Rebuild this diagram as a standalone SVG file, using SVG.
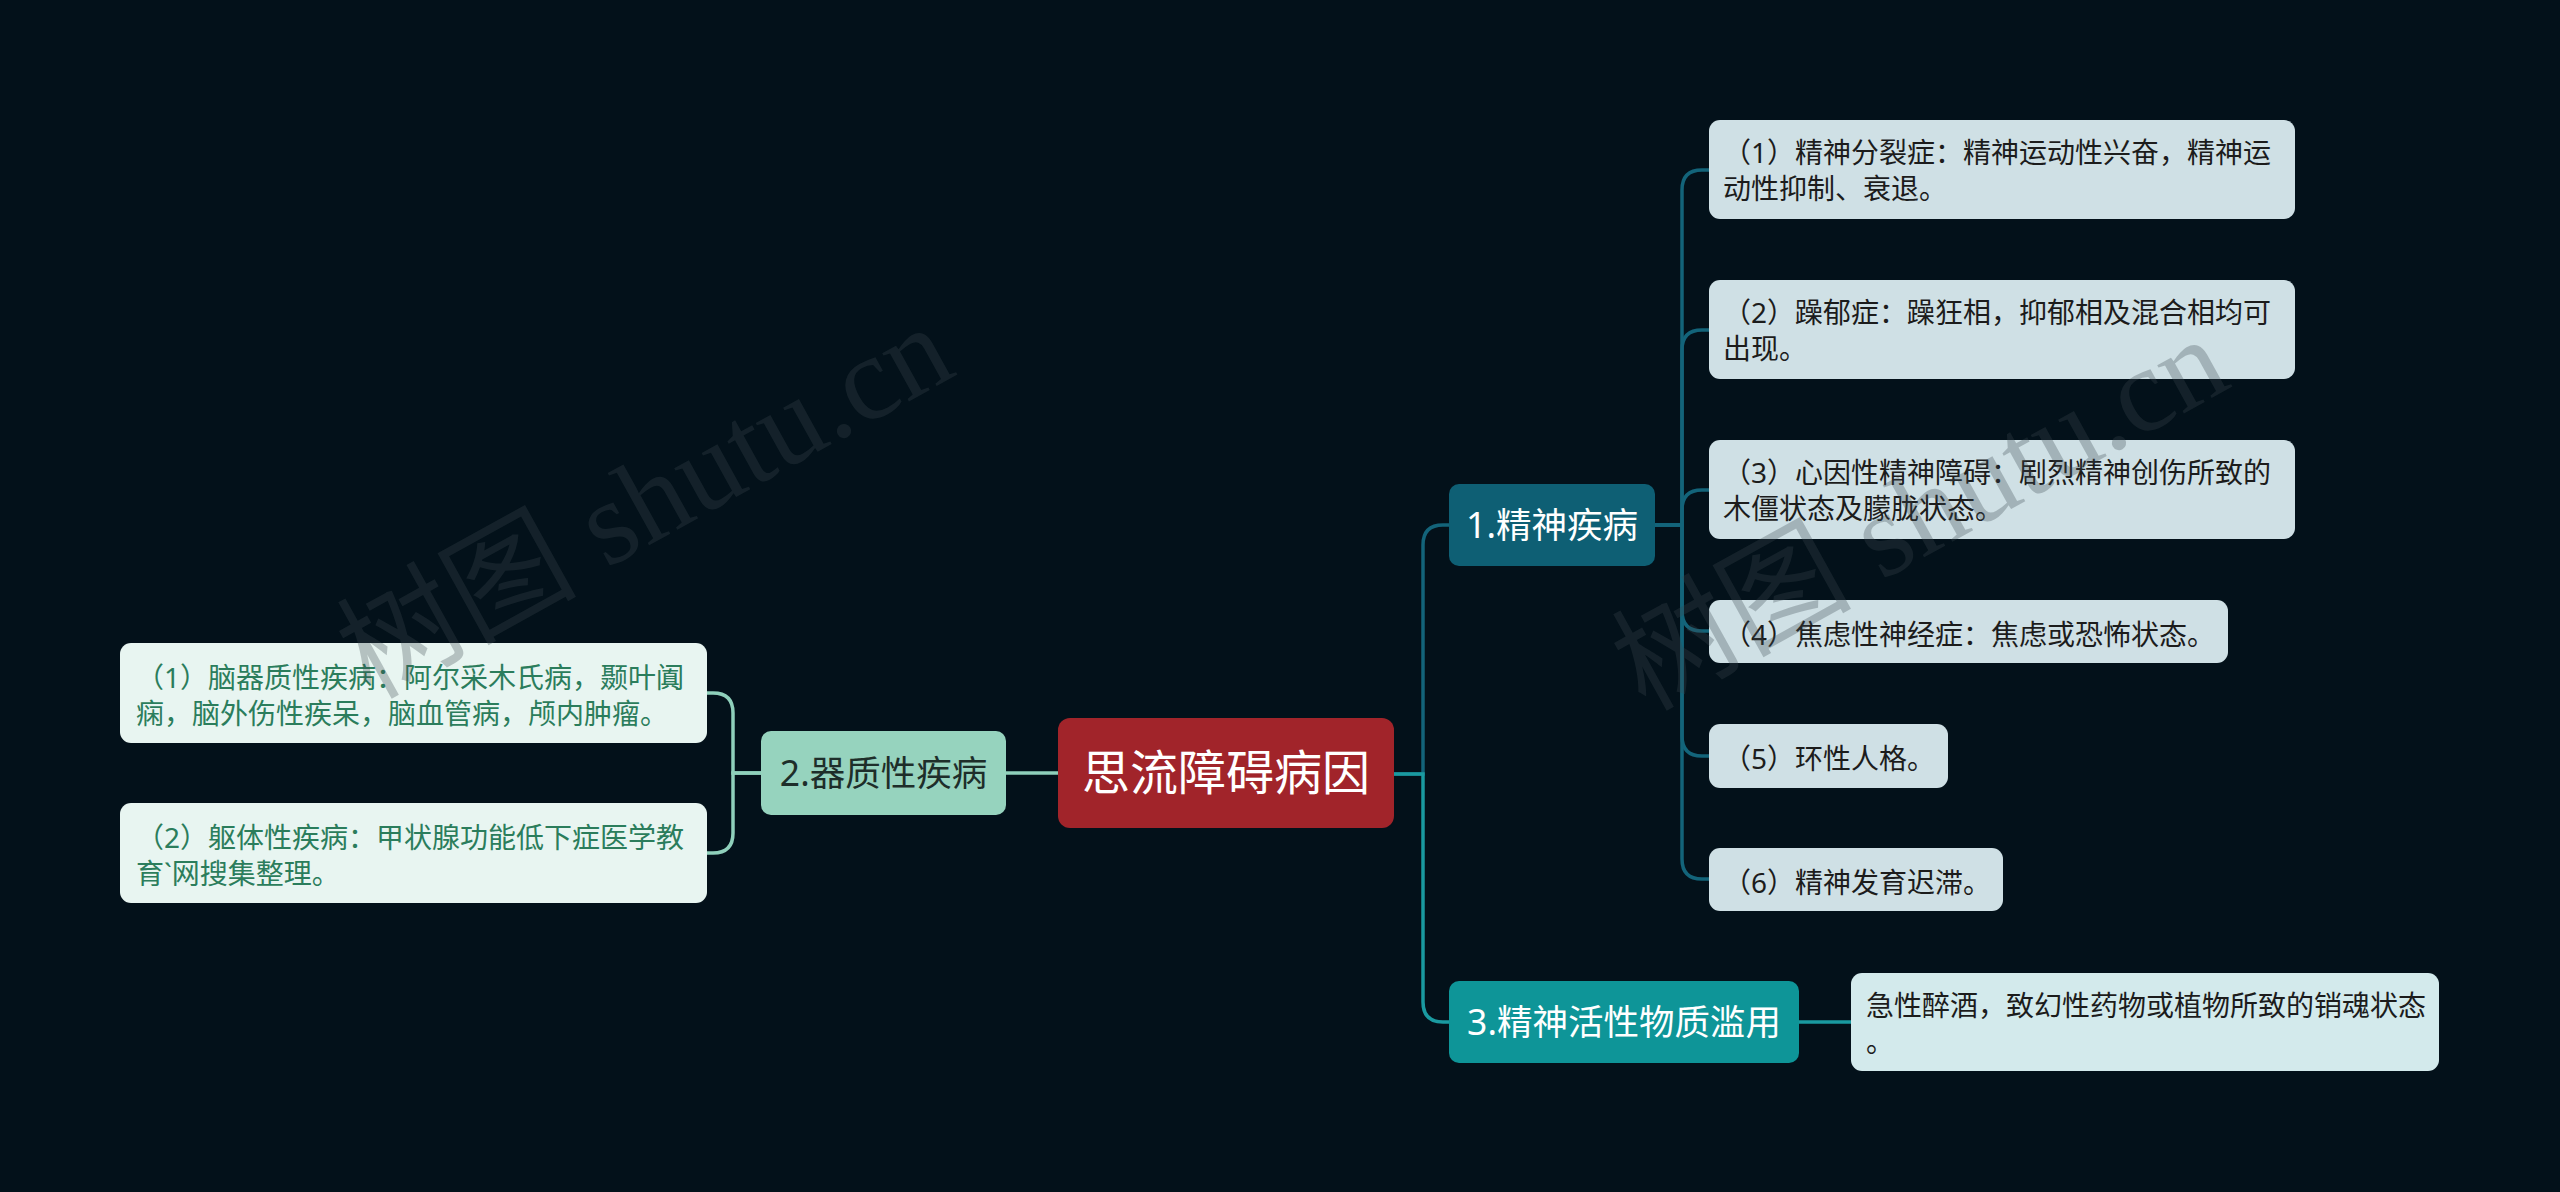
<svg xmlns="http://www.w3.org/2000/svg" width="2560" height="1192" viewBox="0 0 2560 1192">
<style>
.cn{font-family:"Noto Sans","Noto Sans CJK SC",sans-serif;}
.wm{font-family:"Liberation Serif","Noto Sans CJK SC",serif;font-size:120px;fill:#3a4850;fill-opacity:0.3;}
.leaf{font-size:28px;fill:#1c1c1c;}
.lleaf{font-size:28px;fill:#2b7d5c;}
.branch{font-size:35.5px;}
.c1{fill:none;stroke:#13647a;stroke-width:3.5;}
.c3{fill:none;stroke:#1a9aa0;stroke-width:3.5;}
.c2{fill:none;stroke:#8fd0bb;stroke-width:3.5;}
</style>
<rect x="0" y="0" width="2560" height="1192" fill="#03111a"/>
<g id="connectors">
<path class="c1" d="M1393,774 H1423 V545 Q1423,525 1443,525 H1452"/>
<path class="c3" d="M1393,774 H1423 V1002 Q1423,1022 1443,1022 H1452"/>
<path class="c3" d="M1797,1022 H1853"/>
<path class="c1" d="M1653,525 H1682 V190 Q1682,170 1702,170 H1711"/>
<path class="c1" d="M1653,525 H1682 V350 Q1682,330 1702,330 H1711"/>
<path class="c1" d="M1653,525 H1682 V510 Q1682,490 1702,490 H1711"/>
<path class="c1" d="M1653,525 H1682 V611 Q1682,631 1702,631 H1711"/>
<path class="c1" d="M1653,525 H1682 V736 Q1682,756 1702,756 H1711"/>
<path class="c1" d="M1653,525 H1682 V859 Q1682,879 1702,879 H1711"/>
<path class="c2" d="M1060,773 H1004"/>
<path class="c2" d="M763,773 H733 V713 Q733,693 713,693 H705"/>
<path class="c2" d="M763,773 H733 V833 Q733,853 713,853 H705"/>
</g>
<g id="root">
<rect x="1058" y="718" width="336" height="110" rx="12" fill="#a1242a"/>
<text class="cn" x="1226" y="790" font-size="48" fill="#ffffff" text-anchor="middle">思流障碍病因</text>
</g>
<g id="b1">
<rect x="1449" y="484" width="206" height="82" rx="10" fill="#0e5f74"/>
<text class="cn branch" x="1552" y="538" fill="#ffffff" text-anchor="middle">1.精神疾病</text>
</g>
<g id="b2">
<rect x="761" y="731" width="245" height="84" rx="10" fill="#96d3be"/>
<text class="cn branch" x="883.5" y="786" fill="#1e2e2a" text-anchor="middle">2.器质性疾病</text>
</g>
<g id="b3">
<rect x="1449" y="981" width="350" height="82" rx="10" fill="#0e9598"/>
<text class="cn branch" x="1624" y="1035" fill="#ffffff" text-anchor="middle">3.精神活性物质滥用</text>
</g>
<g id="l11">
<rect x="1709" y="120" width="586" height="99" rx="11" fill="#cfe0e5"/>
<text class="cn leaf" x="1723" y="163">（1）精神分裂症：精神运动性兴奋，精神运</text>
<text class="cn leaf" x="1723" y="199">动性抑制、衰退。</text>
</g>
<g id="l12">
<rect x="1709" y="280" width="586" height="99" rx="11" fill="#cfe0e5"/>
<text class="cn leaf" x="1723" y="323">（2）躁郁症：躁狂相，抑郁相及混合相均可</text>
<text class="cn leaf" x="1723" y="359">出现。</text>
</g>
<g id="l13">
<rect x="1709" y="440" width="586" height="99" rx="11" fill="#cfe0e5"/>
<text class="cn leaf" x="1723" y="483">（3）心因性精神障碍：剧烈精神创伤所致的</text>
<text class="cn leaf" x="1723" y="519">木僵状态及朦胧状态。</text>
</g>
<g id="l14">
<rect x="1709" y="600" width="519" height="63" rx="11" fill="#cfe0e5"/>
<text class="cn leaf" x="1723" y="645">（4）焦虑性神经症：焦虑或恐怖状态。</text>
</g>
<g id="l15">
<rect x="1709" y="724" width="239" height="64" rx="11" fill="#cfe0e5"/>
<text class="cn leaf" x="1723" y="769">（5）环性人格。</text>
</g>
<g id="l16">
<rect x="1709" y="848" width="294" height="63" rx="11" fill="#cfe0e5"/>
<text class="cn leaf" x="1723" y="893">（6）精神发育迟滞。</text>
</g>
<g id="l31">
<rect x="1851" y="973" width="588" height="98" rx="11" fill="#d3eaec"/>
<text class="cn leaf" x="1866" y="1016">急性醉酒，致幻性药物或植物所致的销魂状态</text>
<text class="cn leaf" x="1866" y="1052">。</text>
</g>
<g id="l21">
<rect x="120" y="643" width="587" height="100" rx="11" fill="#e8f5f1"/>
<text class="cn lleaf" x="136" y="688">（1）脑器质性疾病：阿尔采木氏病，颞叶阗</text>
<text class="cn lleaf" x="136" y="724">痫，脑外伤性疾呆，脑血管病，颅内肿瘤。</text>
</g>
<g id="l22">
<rect x="120" y="803" width="587" height="100" rx="11" fill="#e8f5f1"/>
<text class="cn lleaf" x="136" y="848">（2）躯体性疾病：甲状腺功能低下症医学教</text>
<text class="cn lleaf" x="136" y="884">育`网搜集整理。</text>
</g>
<g id="watermarks">
<text class="wm" transform="translate(370,700) rotate(-29)">树图 shutu.cn</text>
<text class="wm" transform="translate(1645,712) rotate(-29)">树图 shutu.cn</text>
</g>
</svg>
